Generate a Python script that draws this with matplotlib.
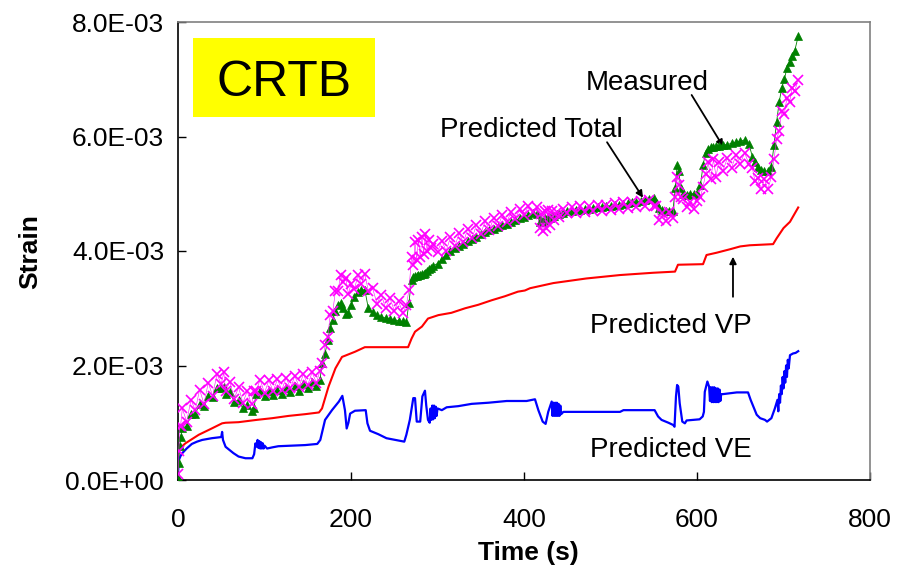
import matplotlib
matplotlib.use("Agg")
import matplotlib.pyplot as plt
from matplotlib.patches import Rectangle
from matplotlib.ticker import FuncFormatter

plt.rcParams['font.family'] = ['Liberation Sans', 'DejaVu Sans']

# ---- Measured & Predicted Total (marker series), strain x1e-3 ----
t_pts = [0, 1, 2, 3, 5, 10, 15, 20, 25, 30, 35, 40, 45, 50, 53, 55, 60, 65, 70, 75,
         80, 85, 88, 90, 95, 100, 105, 110, 115, 120, 125, 130, 135, 140, 145, 150, 155, 160, 164, 167,
         170, 173, 176, 179, 182, 185, 188, 191, 194, 197, 200, 204, 208, 212, 216, 220, 225, 230, 235, 240,
         245, 250, 255, 260, 264, 267, 270, 272, 274, 276, 278, 280, 282, 284, 286, 288, 290, 292, 295, 300,
         305, 310, 315, 320, 325, 330, 335, 340, 345, 350, 355, 360, 365, 370, 375, 380, 385, 390, 395, 400,
         405, 410, 415, 418, 420, 422, 424, 426, 428, 430, 432, 435, 438, 441, 445, 450, 455, 460, 465, 470,
         475, 480, 485, 490, 495, 500, 505, 510, 515, 520, 525, 530, 535, 540, 545, 550, 553, 556, 560, 564,
         568, 572, 575, 577, 579, 581, 584, 588, 592, 596, 600, 604, 607, 610, 613, 616, 619, 622, 625, 630,
         635, 640, 645, 650, 655, 660, 664, 667, 670, 674, 678, 682, 686, 689, 692, 695, 698, 701, 704, 707,
         710, 713, 717]

predicted_total = [0.10, 0.50, 0.95, 0.95, 1.25, 1.02, 1.40, 1.22, 1.58, 1.33, 1.70, 1.47, 1.85, 1.68, 1.88, 1.55, 1.72, 1.42, 1.62, 1.35,
                   1.55, 1.32, 1.55, 1.55, 1.75, 1.52, 1.74, 1.55, 1.76, 1.57, 1.79, 1.60, 1.82, 1.63, 1.85, 1.66, 1.88, 1.70, 1.90, 2.05,
                   2.35, 2.50, 2.88, 2.95, 3.30, 3.30, 3.58, 3.45, 3.52, 3.25, 3.42, 3.33, 3.58, 3.42, 3.60, 3.30, 3.35, 3.08, 3.24, 3.00,
                   3.18, 2.96, 3.12, 2.92, 3.05, 3.32, 3.90, 3.75, 4.15, 3.85, 4.20, 3.90, 4.25, 3.95, 4.30, 4.00, 4.20, 4.05, 4.12, 3.98,
                   4.18, 4.00, 4.24, 4.08, 4.31, 4.15, 4.39, 4.22, 4.46, 4.30, 4.52, 4.37, 4.58, 4.43, 4.63, 4.50, 4.68, 4.56, 4.73, 4.63,
                   4.78, 4.68, 4.76, 4.40, 4.65, 4.35, 4.70, 4.40, 4.72, 4.45, 4.70, 4.55, 4.68, 4.60, 4.73, 4.66, 4.77, 4.67, 4.78, 4.68,
                   4.79, 4.69, 4.80, 4.70, 4.81, 4.72, 4.83, 4.74, 4.85, 4.75, 4.86, 4.77, 4.88, 4.78, 4.89, 4.79, 4.78, 4.55, 4.66, 4.52,
                   4.68, 4.58, 4.95, 5.30, 5.15, 4.95, 4.90, 4.76, 4.86, 4.74, 4.88, 4.95, 5.12, 5.35, 5.55, 5.25, 5.60, 5.30, 5.55, 5.40,
                   5.62, 5.45, 5.68, 5.52, 5.72, 5.52, 5.45, 5.22, 5.28, 5.08, 5.25, 5.08, 5.30, 5.60, 5.95, 6.10, 6.45, 6.40, 6.68, 6.60,
                   6.85, 6.80, 6.98]

measured = [0.05, 0.30, 0.60, 0.75, 0.90, 0.95, 1.15, 1.15, 1.33, 1.30, 1.47, 1.45, 1.61, 1.60, 1.63, 1.50, 1.53, 1.37, 1.40, 1.25,
            1.31, 1.20, 1.25, 1.50, 1.55, 1.46, 1.56, 1.48, 1.58, 1.50, 1.61, 1.53, 1.64, 1.56, 1.68, 1.60, 1.72, 1.64, 1.75, 2.05,
            2.20, 2.45, 2.65, 2.80, 2.95, 3.05, 3.10, 3.00, 2.90, 2.92, 3.05, 3.20, 3.28, 3.32, 3.32, 3.00, 2.93, 2.88, 2.85, 2.83,
            2.82, 2.80, 2.78, 2.77, 2.76, 3.10, 3.50, 3.55, 3.56, 3.57, 3.58, 3.58, 3.60, 3.60, 3.62, 3.65, 3.68, 3.70, 3.74, 3.78,
            3.86, 3.93, 4.00, 4.05, 4.09, 4.13, 4.17, 4.21, 4.25, 4.29, 4.33, 4.36, 4.39, 4.42, 4.45, 4.48, 4.51, 4.54, 4.57, 4.60,
            4.63, 4.66, 4.65, 4.50, 4.55, 4.50, 4.58, 4.55, 4.60, 4.58, 4.62, 4.62, 4.64, 4.65, 4.67, 4.69, 4.70, 4.71, 4.72, 4.73,
            4.74, 4.75, 4.76, 4.77, 4.78, 4.79, 4.80, 4.81, 4.82, 4.83, 4.85, 4.86, 4.88, 4.89, 4.90, 4.92, 4.85, 4.75, 4.72, 4.70,
            4.69, 4.69, 5.10, 5.50, 5.40, 5.10, 5.00, 4.98, 5.00, 5.00, 5.01, 5.15, 5.50, 5.72, 5.78, 5.82, 5.82, 5.83, 5.84, 5.85,
            5.86, 5.88, 5.90, 5.92, 5.94, 5.87, 5.65, 5.55, 5.47, 5.42, 5.40, 5.39, 5.47, 5.85, 6.25, 6.60, 6.85, 7.00, 7.20, 7.30,
            7.40, 7.50, 7.75]

# ---- Predicted VP (red line) ----
t_vp = [2, 8.5, 24, 39, 51, 55, 70, 91, 109, 128, 147, 163, 166.5, 174, 182, 189.6, 193, 204.6, 216, 266,
        270, 274, 282, 289, 301, 316, 332, 347, 362.7, 378, 393, 401, 407, 434, 472, 511, 549.5, 574.6, 578, 607,
        611, 622.7, 638, 650, 661, 688, 692, 700, 707.5, 717]
vp = [0.55, 0.64, 0.79, 0.90, 0.99, 1.00, 1.01, 1.05, 1.08, 1.12, 1.15, 1.18, 1.25, 1.63, 1.95, 2.15, 2.17, 2.24, 2.32, 2.32,
      2.47, 2.59, 2.68, 2.82, 2.88, 2.92, 3.00, 3.06, 3.14, 3.21, 3.29, 3.31, 3.35, 3.44, 3.52, 3.58, 3.62, 3.64, 3.76, 3.77,
      3.93, 3.97, 4.03, 4.08, 4.10, 4.12, 4.22, 4.40, 4.51, 4.76]

# ---- Predicted VE (blue line) ----
t_ve = [0, 1, 3, 5, 10, 16, 22, 28, 39, 50, 51, 52, 55, 60, 64, 70, 78, 86, 88, 89.5,
        91, 92, 93, 94, 95, 96, 97, 98, 99, 100, 103, 109, 116, 132, 147, 161, 164.5, 170, 178, 186,
        190, 193, 195, 197, 199, 204.6, 217, 219, 222, 231.6, 241, 251, 261.6, 264, 268, 272, 274, 276, 280, 282.5,
        285.5, 287, 289, 291, 292, 293, 294, 295, 296, 297, 298, 299, 300, 305, 310.6, 324, 339.5, 359, 380, 403,
        412.7, 416.6, 421.6, 425, 428, 432, 433, 434, 435, 436, 437, 438, 439, 440, 441, 442, 443, 445.5, 472, 511,
        515, 551, 555, 559, 567, 572.6, 574, 575.7, 577, 578.4, 580, 583, 586, 588, 603, 606.6, 608, 609, 612, 614,
        615, 616, 617, 618, 619, 620, 621, 622, 623, 624, 625, 626, 627, 628, 630, 646, 659, 662, 666, 669,
        673, 678.6, 681, 686, 690, 693, 694, 695, 696, 697, 698, 699, 700, 701, 702, 703, 704, 705, 706, 707.5,
        711, 714, 717]
ve = [0.10, 0.35, 0.42, 0.47, 0.55, 0.63, 0.67, 0.70, 0.73, 0.75, 0.84, 0.70, 0.58, 0.52, 0.47, 0.41, 0.38, 0.38, 0.45, 0.64,
      0.58, 0.70, 0.56, 0.68, 0.55, 0.66, 0.55, 0.64, 0.55, 0.60, 0.55, 0.57, 0.59, 0.60, 0.61, 0.63, 0.70, 1.05, 1.22, 1.37,
      1.47, 1.22, 0.90, 1.00, 1.16, 1.21, 1.22, 0.99, 0.86, 0.80, 0.73, 0.70, 0.67, 0.79, 1.05, 1.43, 1.43, 1.02, 1.02, 1.46,
      1.56, 1.30, 1.05, 1.00, 1.25, 1.05, 1.30, 1.06, 1.30, 1.08, 1.28, 1.12, 1.25, 1.22, 1.27, 1.29, 1.33, 1.35, 1.38, 1.38,
      1.41, 1.22, 1.02, 0.98, 1.19, 1.37, 1.12, 1.35, 1.12, 1.35, 1.12, 1.35, 1.12, 1.33, 1.12, 1.30, 1.15, 1.19, 1.19, 1.19,
      1.22, 1.22, 1.11, 1.05, 1.00, 0.96, 0.93, 1.46, 1.66, 1.63, 1.34, 1.02, 0.99, 1.04, 1.06, 1.11, 1.19, 1.54, 1.72, 1.63,
      1.38, 1.62, 1.36, 1.62, 1.36, 1.62, 1.36, 1.60, 1.36, 1.60, 1.36, 1.58, 1.38, 1.50, 1.50, 1.53, 1.53, 1.40, 1.25, 1.14,
      1.08, 1.05, 1.02, 1.08, 1.25, 1.40, 1.20, 1.50, 1.35, 1.65, 1.50, 1.80, 1.60, 1.90, 1.70, 2.00, 1.80, 2.10, 1.95, 2.18,
      2.21, 2.22, 2.25]

y_ticks = [0, 2e-3, 4e-3, 6e-3, 8e-3]
x_ticks = [0, 200, 400, 600, 800]

S = 1e-3
fig = plt.figure(figsize=(9.11, 5.77), dpi=100)
ax = fig.add_axes([178/911, 97/577, 692/911, 458/577])

ax.plot(t_ve, [v*S for v in ve], color='#0000FF', lw=1.6, zorder=3)
ax.plot(t_vp, [v*S for v in vp], color='#FF0000', lw=1.5, zorder=3)
ax.plot(t_pts, [v*S for v in measured], color='#008000', lw=0.6, marker='^',
        markersize=6, markeredgewidth=0.5, zorder=4)
ax.plot(t_pts, [v*S for v in predicted_total], color='#FF00FF', lw=0.4, marker='x',
        markersize=7.5, markeredgewidth=1.2, zorder=5)

ax.set_xlim(0, 800)
ax.set_ylim(0, 8e-3)
ax.set_xticks(x_ticks)
ax.set_yticks(y_ticks)
ax.yaxis.set_major_formatter(FuncFormatter(lambda v, p: ('%.1E' % v)))
ax.tick_params(direction='in', length=6, width=1, labelsize=19)
ax.tick_params(axis='x', pad=20)
ax.tick_params(axis='y', pad=10)
for s in ['left', 'bottom']:
    ax.spines[s].set_color('black')
    ax.spines[s].set_linewidth(1.2)
for s in ['top', 'right']:
    ax.spines[s].set_color('#808080')
    ax.spines[s].set_linewidth(1.2)

fig.text(30/911, 1-252/577, 'Strain', rotation=90, ha='center', va='center',
         fontsize=19, fontweight='bold')
fig.text(528/911, 1-553/577, 'Time (s)', ha='center', va='center',
         fontsize=19, fontweight='bold')

# CRTB label box
ax.add_patch(Rectangle((0.0217, 0.7926), 0.263, 0.1724, transform=ax.transAxes,
                       facecolor='#FFFF00', edgecolor='none', zorder=6))
ax.text(0.153, 0.838, 'CRTB', transform=ax.transAxes, ha='center', va='baseline',
        fontsize=36, zorder=7)

arrow = dict(arrowstyle='-|>', color='black', lw=1.3, mutation_scale=10, shrinkA=0, shrinkB=0)
ax.text(542.8, 6.81e-3, 'Measured', ha='center', va='baseline', fontsize=20)
ax.annotate('', xy=(630.4, 5.82e-3), xytext=(593.8, 6.725e-3), arrowprops=arrow)
ax.text(409, 5.99e-3, 'Predicted Total', ha='center', va='baseline', fontsize=20)
ax.annotate('', xy=(537.6, 4.93e-3), xytext=(496, 5.90e-3), arrowprops=arrow)
ax.text(570, 2.568e-3, 'Predicted VP', ha='center', va='baseline', fontsize=20)
ax.annotate('', xy=(641.6, 3.90e-3), xytext=(641.6, 3.20e-3), arrowprops=arrow)
ax.text(570, 0.402e-3, 'Predicted VE', ha='center', va='baseline', fontsize=20)

fig.savefig('out.png', dpi=100)
